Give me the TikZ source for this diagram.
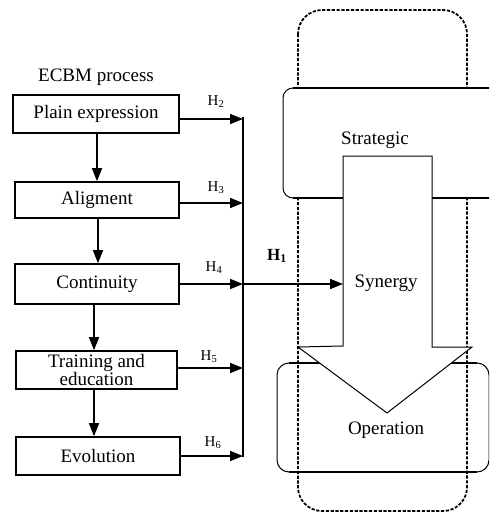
\documentclass[tikz,border=0pt]{standalone}
\usepackage{fontspec}
\setmainfont{Liberation Serif}
\usetikzlibrary{arrows.meta}
\tikzset{
  procbox/.style={draw, line width=1.6pt, minimum width=164pt, minimum height=38pt, inner sep=1pt, align=center, font=\fontsize{19}{17}\selectfont},
  lbl/.style={font=\fontsize{19}{22}\selectfont, inner sep=0pt},
  hlbl/.style={font=\fontsize{15}{17}\selectfont, inner sep=0pt},
  arr/.style={line width=1.6pt, -{Triangle[length=13pt,width=10pt]}},
  dashbox/.style={line width=1.8pt, dash pattern=on 3.2pt off 1.6pt, rounded corners=24pt},
  thin/.style={line width=1pt},
  thickh/.style={line width=2.2pt},
}
\begin{document}
\begin{tikzpicture}[x=1pt,y=-1pt]
\useasboundingbox (0,0) rectangle (490,513);
% outer dashed frame
\draw[dashbox] (298,10) rectangle (467,511);
% strategic box (clipped at right edge)
\begin{scope}
\clip (0,0) rectangle (489,513);
\draw[thin, fill=white, rounded corners=10pt] (283,88) rectangle (520,198);
\draw[thickh] (293,88) -- (489,88);
\draw[thickh] (293,198) -- (489,198);
% operation box
\draw[thin, rounded corners=12pt] (277,363) rectangle (489,472);
\draw[thickh] (289,363) -- (477,363);
\draw[thickh] (289,472) -- (477,472);
\end{scope}
% big arrow
\draw[thin, fill=white] (343,156) -- (432,156) -- (432,347) -- (472,347) -- (387,413) -- (298,347) -- (343,346) -- cycle;
\node[lbl] (strat) at (375,140) {Strategic};
\node[lbl] (syn) at (386,283) {Synergy};
\coordinate (syntip) at (343,284);
\node[lbl] (oper) at (386,430) {Operation};
% left column
\node[lbl] (title) at (96,77) {ECBM process};
\node[procbox, minimum width=166pt] (plain) at (96,114) {Plain expression};
\node[procbox, minimum height=36pt] (alig) at (97,200) {Aligment};
\node[procbox, minimum height=40pt] (cont) at (97,284) {Continuity};
\node[procbox, minimum width=161pt] (train) at (96.5,370) {Training and\\education};
\node[procbox] (evol) at (98,456) {Evolution};
% vertical collector line
\coordinate (v2) at (243,119);
\coordinate (v3) at (243,203);
\coordinate (v4) at (243,284);
\coordinate (v5) at (243,368);
\coordinate (v6) at (243,456);
\draw[line width=2pt] (243,117) -- (243,457);
% arrows between boxes
\draw[arr] ([xshift=1pt]plain.south) -- ([xshift=1pt]plain.south |- alig.north);
\draw[arr] ([xshift=1pt]alig.south) -- ([xshift=1pt]alig.south |- cont.north);
\draw[arr] ([xshift=-3pt]cont.south) -- ([xshift=-3pt]cont.south |- train.north);
\draw[arr] ([xshift=-3pt]cont.south |- train.south) -- ([xshift=-3pt]cont.south |- evol.north);
% arrows to collector
\draw[arr] (plain.east |- v2) -- (v2);
\draw[arr] (alig.east |- v3) -- (v3);
\draw[arr] (cont.east |- v4) -- (v4);
\draw[arr] (train.east |- v5) -- (v5);
\draw[arr] (evol.east |- v6) -- (v6);
\draw[arr] (v4) -- (syntip);
% labels
\node[hlbl] (h2) at (216,102) {H\textsubscript{2}};
\node[hlbl] (h3) at (216,188) {H\textsubscript{3}};
\node[hlbl] (h4) at (214,268) {H\textsubscript{4}};
\node[hlbl] (h5) at (209,357) {H\textsubscript{5}};
\node[hlbl] (h6) at (213,443) {H\textsubscript{6}};
\node[hlbl, font=\fontsize{17}{19}\selectfont\bfseries] (h1) at (277,256) {H\textsubscript{1}};
\end{tikzpicture}
\end{document}
